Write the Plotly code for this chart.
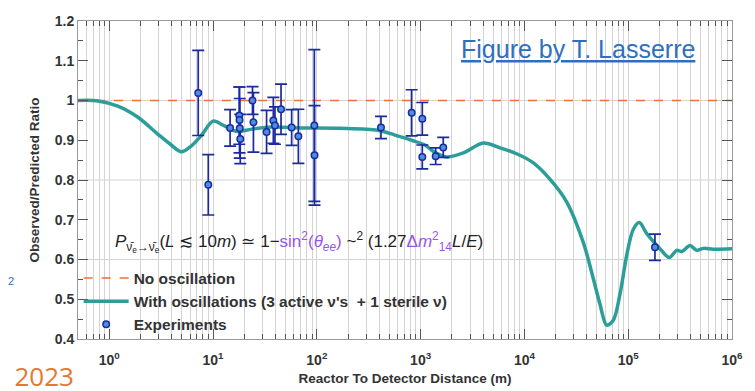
import plotly.graph_objects as go

# ── Data ──────────────────────────────────────────────────────────────────────
CURVE_L = [0.5, 0.78, 1.21, 1.89, 2.95, 3.96, 4.95, 6.18, 7.71, 10.0, 12.5, 15.6,
           17.5, 23.6, 34, 71, 167, 388, 566, 820, 1100, 1325, 1780, 2580, 4020,
           5820, 8420, 12200, 17600, 25500, 36900, 46000, 53400, 62000, 71800,
           83200, 96600, 112000, 128000, 151000, 202000, 249000, 293000, 328000,
           394000, 457000, 529000, 660000, 1000000]
CURVE_R = [1.000, 0.999, 0.986, 0.958, 0.915, 0.888, 0.871, 0.886, 0.912, 0.948,
           0.938, 0.925, 0.922, 0.928, 0.933, 0.931, 0.930, 0.925, 0.913, 0.900,
           0.888, 0.872, 0.858, 0.868, 0.893, 0.881, 0.866, 0.843, 0.802, 0.745,
           0.643, 0.553, 0.488, 0.435, 0.447, 0.512, 0.610, 0.676, 0.693, 0.665,
           0.627, 0.605, 0.623, 0.620, 0.635, 0.623, 0.628, 0.626, 0.627]

EXP_L = [7.2, 9.0, 14.6, 17.9, 18.0, 18.1, 18.3, 24.0, 24.5, 32.8, 38.1, 39.5,
         45.2, 57.2, 66.4, 94.6, 95.0, 415, 820, 1038, 1038, 1397, 1652, 181000]
EXP_R = [1.019, 0.788, 0.931, 0.962, 0.951, 0.930, 0.903, 1.000, 0.945, 0.921,
         0.950, 0.937, 0.978, 0.932, 0.910, 0.937, 0.862, 0.932, 0.969, 0.954,
         0.858, 0.860, 0.882, 0.631]
EXP_ERR = [0.107, 0.076, 0.046, 0.072, 0.083, 0.075, 0.062, 0.035, 0.075, 0.054,
           0.058, 0.047, 0.063, 0.045, 0.068, 0.191, 0.125, 0.028, 0.058, 0.041,
           0.030, 0.021, 0.025, 0.033]

NO_OSC_L = [0.5, 1000000]
NO_OSC_R = [1.0, 1.0]

X_DECADES = [1, 10, 100, 1000, 10000, 100000, 1000000]
X_LABELS = ["10<sup>%d</sup>" % i for i in range(7)]
Y_TICKS = [0.4, 0.5, 0.6, 0.7, 0.8, 0.9, 1.0, 1.1, 1.2]
Y_LABELS = ["0.4", "0.5", "0.6", "0.7", "0.8", "0.9", "1", "1.1", "1.2"]
Y_GRID = [0.6, 0.8, 1.0]

# minor log ticks 2..9 x 10^n inside the visible range
X_MINOR = [m * 10 ** e for e in range(-1, 6) for m in range(2, 10) if 0.5 <= m * 10 ** e <= 1e6]

FONT = "Liberation Sans, Arial, sans-serif"
TEAL = "#2b9e9a"
ORANGE = "#e8733a"
NAVY = "#1c2a9e"
GRID = "#d4d4d4"
PURPLE = "#9a55e6"
TXT = "#333333"

fig = go.Figure()

fig.add_trace(go.Scatter(
    x=NO_OSC_L, y=NO_OSC_R, mode="lines", name="No oscillation",
    line=dict(color=ORANGE, width=1.6, dash="dash"),
))
fig.add_trace(go.Scatter(
    x=CURVE_L, y=CURVE_R, mode="lines",
    name="With oscillations (3 active \u03bd's  + 1 sterile \u03bd)",
    line=dict(color=TEAL, width=3.5, shape="spline", smoothing=0.9),
))
fig.add_trace(go.Scatter(
    x=EXP_L, y=EXP_R, mode="markers", name="Experiments",
    marker=dict(size=6.5, color="#4b8fe2", line=dict(color=NAVY, width=1.5)),
    error_y=dict(type="data", array=EXP_ERR, color=NAVY, thickness=1.7, width=6),
))

# horizontal grid only every 0.2
shapes = [dict(type="line", xref="paper", x0=0, x1=1, yref="y", y0=g, y1=g,
               line=dict(color=GRID, width=1.2), layer="below") for g in Y_GRID]

formula = ("<i>P</i><sub>\u03bd\u0304<sub>e</sub>\u2192\u03bd\u0304<sub>e</sub></sub>"
           "(<i>L</i> \u2272 10<i>m</i>) \u2243 1\u2212"
           "<span style='color:%s'>sin<sup>2</sup>(<i>\u03b8<sub>ee</sub></i>)</span>"
           " ~<sup>2</sup> (1.27<span style='color:%s'>\u0394<i>m</i><sup>2</sup><sub>14</sub></span>"
           "<i>L</i>/<i>E</i>)") % (PURPLE, PURPLE)

annotations = [
    dict(text=formula, xref="paper", yref="paper", x=0.053, y=0.304,
         xanchor="left", yanchor="middle", showarrow=False,
         font=dict(family=FONT, size=17, color="#222222")),
    dict(text="<u>Figure by T. Lasserre</u>", xref="paper", yref="paper",
         x=0.946, y=0.911, xanchor="right", yanchor="middle", showarrow=False,
         font=dict(family=FONT, size=25, color="#2f6fc0")),
    # slide fragments left of the chart
    dict(text="P 2023", xref="paper", yref="paper", x=-0.0035, y=-0.117,
         xanchor="right", yanchor="middle", showarrow=False,
         font=dict(family="Open Sans, sans-serif", size=26, color="#e8772e")),
    dict(text="2", xref="paper", yref="paper", x=-0.102, y=0.181,
         xanchor="center", yanchor="middle", showarrow=False,
         font=dict(family=FONT, size=11, color="#2f6fc0")),
]

# the page puts the figure 8px in from the top-left corner
fig.update_layout(
    width=747, height=383,
    margin=dict(l=70, r=23, t=5, b=52),
    paper_bgcolor="white", plot_bgcolor="white",
    font=dict(family=FONT, size=13, color=TXT),
    showlegend=True,
    legend=dict(x=0.001, y=0.244, xanchor="left", yanchor="top",
                bgcolor="rgba(0,0,0,0)", itemwidth=45, tracegroupgap=0,
                font=dict(family=FONT, size=15.5, color=TXT, weight="bold")),
    shapes=shapes,
    annotations=annotations,
)

fig.update_xaxes(
    type="log", range=[-0.301, 6],
    tickvals=X_DECADES, ticktext=X_LABELS,
    tickfont=dict(family=FONT, size=14, color=TXT, weight="bold"),
    ticks="inside", ticklen=10, tickcolor="#555555", ticklabelstandoff=8,
    ticklabeloverflow="allow",
    showgrid=True, gridcolor=GRID, gridwidth=1.2,
    minor=dict(tickvals=X_MINOR, ticks="inside", ticklen=5, tickcolor="#555555",
               showgrid=True, gridcolor=GRID, gridwidth=1.2),
    showline=True, linecolor="#999999", mirror="ticks", zeroline=False,
    title=dict(text="Reactor To Detector Distance (m)", standoff=6,
               font=dict(family=FONT, size=13.5, color=TXT, weight="bold")),
)
fig.update_yaxes(
    range=[0.4, 1.2],
    tickvals=Y_TICKS, ticktext=Y_LABELS,
    tickfont=dict(family=FONT, size=14, color=TXT, weight="bold"),
    ticks="inside", ticklen=10, tickcolor="#555555",
    ticklabeloverflow="allow",
    minor=dict(dtick=0.05, ticks="inside", ticklen=5, tickcolor="#555555", showgrid=False),
    showgrid=False,
    showline=True, linecolor="#999999", mirror="ticks", zeroline=False,
    title=dict(text="Observed/Predicted Ratio", standoff=12,
               font=dict(family=FONT, size=13.5, color=TXT, weight="bold")),
)

fig.write_html("out.html")
